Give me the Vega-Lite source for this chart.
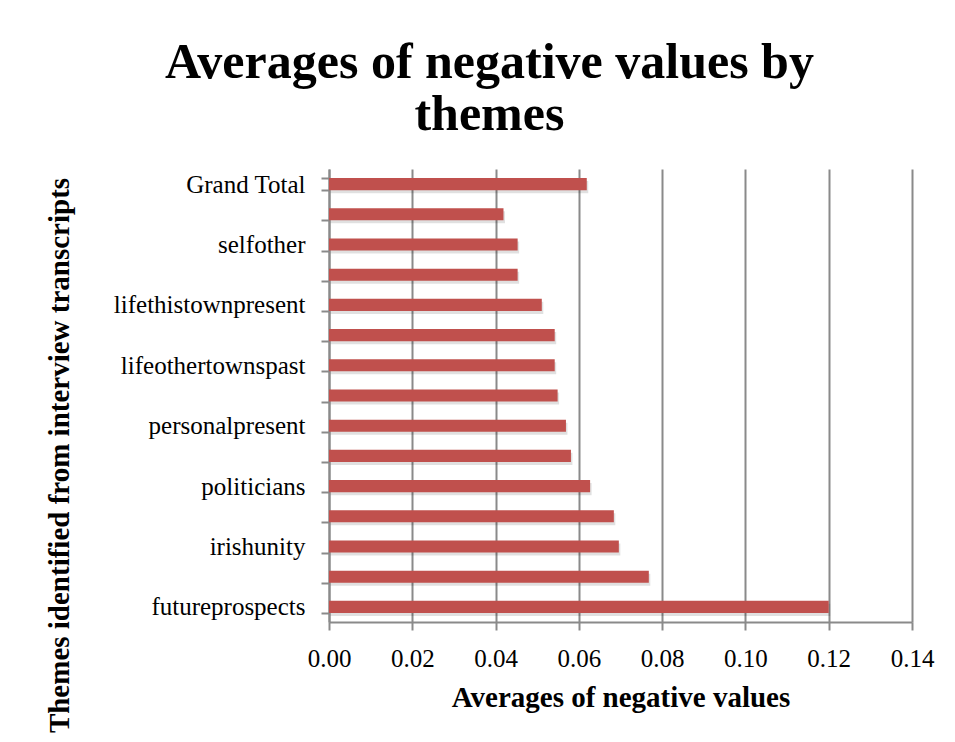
{
  "$schema": "https://vega.github.io/schema/vega-lite/v6.json",
  "width": 583,
  "height": 453,
  "padding": {"left": 45, "top": 38, "right": 18, "bottom": 10},
  "background": "white",
  "title": {
    "text": ["Averages of negative values by", "themes"],
    "font": "Liberation Serif",
    "fontSize": 50,
    "fontWeight": "bold",
    "color": "#000000",
    "lineHeight": 52,
    "anchor": "middle",
    "frame": "bounds",
    "offset": 17
  },
  "data": {
    "values": [
      {"theme": "Grand Total", "avg": 0.0619},
      {"theme": "otherpeople", "avg": 0.0419},
      {"theme": "selfother", "avg": 0.0453},
      {"theme": "religion", "avg": 0.0453},
      {"theme": "lifethistownpresent", "avg": 0.0511},
      {"theme": "community", "avg": 0.0542},
      {"theme": "lifeothertownspast", "avg": 0.0542},
      {"theme": "lifeothertownspresent", "avg": 0.0549},
      {"theme": "personalpresent", "avg": 0.0569},
      {"theme": "personalpast", "avg": 0.0581},
      {"theme": "politicians", "avg": 0.0627},
      {"theme": "economy", "avg": 0.0684},
      {"theme": "irishunity", "avg": 0.0696},
      {"theme": "lifethistownpast", "avg": 0.0768},
      {"theme": "futureprospects", "avg": 0.12}
    ]
  },
  "encoding": {
    "y": {
      "field": "theme",
      "type": "nominal",
      "sort": null,
      "scale": {"paddingInner": 0.6, "paddingOuter": 0.3},
      "title": "Themes identified from interview transcripts",
      "axis": {
        "labelExpr": "indexof(['Grand Total','selfother','lifethistownpresent','lifeothertownspast','personalpresent','politicians','irishunity','futureprospects'], datum.value) >= 0 ? datum.value : ''",
        "tickBand": "extent",
        "tickSize": 8,
        "tickWidth": 2,
        "tickColor": "#8a8a8a",
        "domainColor": "#8a8a8a",
        "domainWidth": 2,
        "labelFont": "Liberation Serif",
        "labelFontSize": 25,
        "labelColor": "#000000",
        "labelPadding": 16,
        "labelLimit": 400,
        "titleFont": "Liberation Serif",
        "titleFontSize": 29,
        "titleFontWeight": "bold",
        "titleColor": "#000000",
        "titlePadding": 55,
        "titleY": 286,
        "grid": false
      }
    },
    "x": {
      "field": "avg",
      "type": "quantitative",
      "scale": {"domain": [0, 0.14], "nice": false},
      "title": "Averages of negative values",
      "axis": {
        "values": [0, 0.02, 0.04, 0.06, 0.08, 0.1, 0.12, 0.14],
        "format": ".2f",
        "labelFlush": false,
        "tickSize": 8,
        "tickWidth": 2,
        "tickColor": "#8a8a8a",
        "domainColor": "#8a8a8a",
        "domainWidth": 2,
        "grid": true,
        "gridColor": "#8a8a8a",
        "gridWidth": 2,
        "labelFont": "Liberation Serif",
        "labelFontSize": 25,
        "labelColor": "#000000",
        "labelPadding": 16,
        "titleFont": "Liberation Serif",
        "titleFontSize": 29,
        "titleFontWeight": "bold",
        "titleColor": "#000000",
        "titlePadding": 12
      }
    }
  },
  "layer": [
    {
      "mark": {"type": "bar", "color": "#000000", "opacity": 0.12, "yOffset": 3, "xOffset": 1.5}
    },
    {
      "mark": {"type": "bar", "color": "#C0504D"}
    }
  ],
  "config": {
    "view": {"stroke": null}
  }
}
